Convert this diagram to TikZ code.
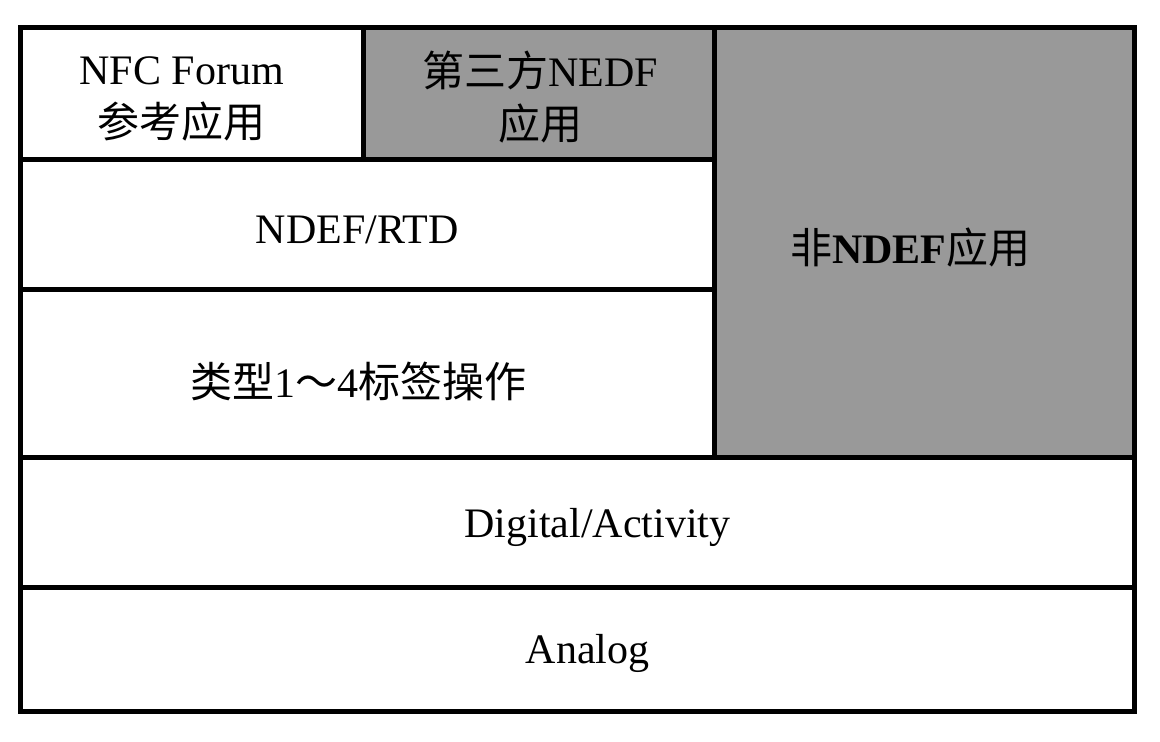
\documentclass[tikz,border=0pt]{standalone}
\usepackage{fontspec}
\setmainfont{Liberation Serif}
\newfontfamily\cjk{Noto Sans CJK SC}
\definecolor{layergray}{HTML}{999999}
\begin{document}
\begin{tikzpicture}[x=1pt,y=-1pt,
  cell/.style={draw=black, line width=5pt, rectangle, inner sep=0pt, outer sep=0pt},
  plain/.style={cell, fill=white},
  shaded/.style={cell, fill=layergray},
  caption/.style={inner sep=0pt, align=center, font=\fontsize{42}{53}\selectfont}]
\useasboundingbox (0,0) rectangle (1160,742);
% layer cells
\node[plain, minimum width=342.5pt, minimum height=131.5pt] (forum) at (191.75,93.25) {};
\node[shaded, minimum width=351pt, minimum height=131.5pt] (third) at (538.5,93.25) {};
\node[plain, minimum width=693.5pt, minimum height=130.5pt] (ndef) at (367.25,224.25) {};
\node[plain, minimum width=693.5pt, minimum height=168pt] (tags) at (367.25,373.5) {};
\node[shaded, minimum width=420.5pt, minimum height=430pt] (nonndef) at (924.25,242.5) {};
\node[plain, minimum width=1114pt, minimum height=129.5pt] (digital) at (577.5,522.25) {};
\node[plain, minimum width=1114pt, minimum height=124pt] (analog) at (577.5,649) {};
% layer captions
\node[caption] (forumtext) at ([shift={(-10,6)}]forum.center) {NFC Forum\\{\cjk 参考应用}};
\node[caption] (thirdtext) at ([shift={(2,4)}]third.center) {{\cjk 第三方}NEDF\\{\cjk 应用}};
\node[caption] (ndeftext) at ([shift={(-10,6)}]ndef.center) {NDEF/RTD};
\node[caption] (tagstext) at ([shift={(-9,8)}]tags.center) {{\cjk 类型}1{\cjk ～}4{\cjk 标签操作}};
\node[caption] (nonndeftext) at ([shift={(-14,5)}]nonndef.center) {{\cjk 非}\textbf{NDEF}{\cjk 应用}};
\node[caption] (digitaltext) at ([shift={(20,5)}]digital.center) {Digital/Activity};
\node[caption] (analogtext) at ([shift={(10,4)}]analog.center) {Analog};
\end{tikzpicture}
\end{document}
